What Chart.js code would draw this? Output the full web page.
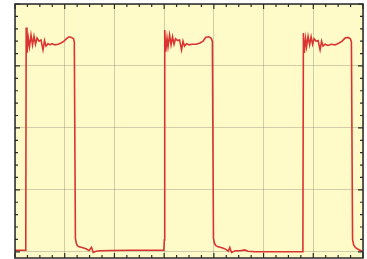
<!DOCTYPE html>
<html>
<head>
<meta charset="utf-8">
<script src="https://cdn.jsdelivr.net/npm/chart.js@4/dist/chart.umd.min.js"></script>
<style>
  html, body { margin: 0; padding: 0; background: #fff; overflow: hidden; }
  canvas { display: block; }
</style>
</head>
<body>
<canvas id="scope" width="367" height="259"></canvas>
<script>
// time in screen divisions, voltage in vertical divisions
const times = [
  0.000, 0.207, 0.217, 0.225, 0.241, 0.268, 0.292, 0.322, 0.352, 0.382, 0.412, 0.443, 0.483, 0.523,
  0.563, 0.594, 0.624, 0.664, 0.704, 0.744, 0.805, 0.865, 0.926, 0.986, 1.036, 1.087, 1.137, 1.177,
  1.193, 1.215, 1.232, 1.254, 1.288, 1.348, 1.429, 1.489, 1.539, 1.575, 1.630, 1.710, 1.911, 2.314,
  2.716, 2.994,
  3.004, 3.012, 3.032, 3.058, 3.078, 3.109, 3.139, 3.169, 3.199, 3.229, 3.270, 3.310, 3.350, 3.380,
  3.410, 3.451, 3.501, 3.561, 3.642, 3.722, 3.783, 3.833, 3.893, 3.944, 3.970, 3.992, 4.012, 4.040,
  4.085, 4.165, 4.245, 4.292, 4.320, 4.356, 4.427, 4.527, 4.618, 4.688, 4.829, 5.332, 5.781,
  5.791, 5.801, 5.819, 5.845, 5.865, 5.895, 5.926, 5.956, 5.986, 6.016, 6.056, 6.097, 6.137, 6.167,
  6.197, 6.237, 6.298, 6.358, 6.439, 6.519, 6.579, 6.640, 6.700, 6.746, 6.767, 6.790, 6.812, 6.845,
  6.901, 6.962, 7.000
]
const volts = [
  0.024, 0.024, 0.23, 3.62, 3.21, 3.45, 3.31, 3.50, 3.34, 3.48, 3.35, 3.45, 3.40, 3.42,
  3.26, 3.41, 3.32, 3.36, 3.34, 3.36, 3.34, 3.35, 3.37, 3.40, 3.44, 3.47, 3.46, 3.44,
  3.39, 0.22, 0.14, 0.10, 0.08, 0.07, 0.05, 0.02, 0.07, -0.01, 0.01, 0.016, 0.02, 0.024,
  0.024, 0.027,
  0.19, 3.58, 3.23, 3.45, 3.31, 3.50, 3.34, 3.47, 3.35, 3.44, 3.41, 3.42, 3.26, 3.40,
  3.32, 3.36, 3.34, 3.35, 3.35, 3.37, 3.40, 3.46, 3.47, 3.45, 3.40, 0.22, 0.14, 0.10,
  0.08, 0.065, 0.04, 0.01, 0.07, -0.01, 0.016, 0.016, 0.03, 0.01, 0.0, 0.0, 0.003,
  0.19, 3.53, 3.21, 3.44, 3.31, 3.48, 3.34, 3.47, 3.35, 3.44, 3.40, 3.41, 3.26, 3.40,
  3.32, 3.35, 3.33, 3.35, 3.34, 3.37, 3.40, 3.45, 3.46, 3.44, 3.39, 0.20, 0.11, 0.07,
  0.04, 0.016, 0.0
]
const xDivisions = [0, 1, 2, 3, 4, 5, 6, 7]
const yDivisions = [0, 1, 2, 3, 4]

const points = times.map((t, i) => ({ x: t, y: volts[i] }))

const frame = {
  id: 'frame',
  beforeDraw(chart) {
    const { ctx, chartArea: a } = chart
    ctx.save()
    ctx.fillStyle = '#fffbc8'
    ctx.fillRect(a.left, a.top, a.right - a.left, a.bottom - a.top)
    ctx.restore()
  },
  afterDraw(chart) {
    const { ctx, chartArea: a, scales } = chart
    ctx.save()
    ctx.strokeStyle = '#2a2a2a'
    ctx.lineWidth = 1.2
    // minor / major ticks pointing inward on all four sides
    ctx.beginPath()
    for (let v = 0; v <= 7.001; v += 0.25) {
      const px = scales.x.getPixelForValue(v)
      const len = Math.abs(v - Math.round(v)) < 0.01 ? 5 : 3
      ctx.moveTo(px, a.top); ctx.lineTo(px, a.top + len)
      ctx.moveTo(px, a.bottom); ctx.lineTo(px, a.bottom - len)
    }
    for (let v = 0; v <= 4.001; v += 0.2) {
      const py = scales.y.getPixelForValue(v)
      const len = Math.abs(v - Math.round(v)) < 0.01 ? 5 : 3
      ctx.moveTo(a.left, py); ctx.lineTo(a.left + len, py)
      ctx.moveTo(a.right, py); ctx.lineTo(a.right - len, py)
    }
    ctx.stroke()
    ctx.lineWidth = 1.5
    ctx.strokeRect(a.left, a.top, a.right - a.left, a.bottom - a.top)
    ctx.restore()
  }
}

new Chart(document.getElementById('scope'), {
  type: 'line',
  data: {
    datasets: [{
      data: points,
      borderColor: 'rgb(218, 52, 50)',
      borderWidth: 1.6,
      pointRadius: 0,
      tension: 0,
      fill: false
    }]
  },
  options: {
    responsive: false,
    animation: false,
    devicePixelRatio: 1,
    layout: { padding: { left: 15, top: 4, right: 4, bottom: 1 } },
    plugins: { legend: { display: false }, tooltip: { enabled: false } },
    scales: {
      x: {
        type: 'linear',
        min: 0,
        max: 7,
        afterBuildTicks: s => { s.ticks = xDivisions.map(v => ({ value: v })) },
        ticks: { display: false },
        grid: { color: 'rgba(120,120,110,0.35)', lineWidth: 1, drawTicks: false },
        border: { display: false }
      },
      y: {
        min: -0.1,
        max: 4,
        afterBuildTicks: s => { s.ticks = yDivisions.map(v => ({ value: v })) },
        ticks: { display: false },
        grid: { color: 'rgba(120,120,110,0.35)', lineWidth: 1, drawTicks: false },
        border: { display: false }
      }
    }
  },
  plugins: [frame]
})
</script>
</body>
</html>
